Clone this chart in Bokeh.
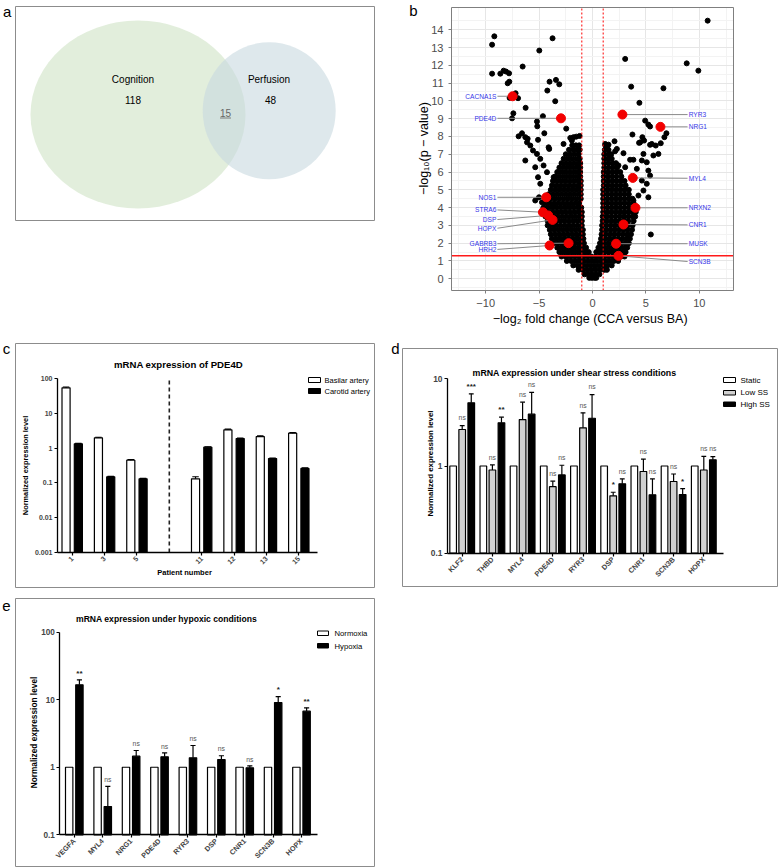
import math
from bokeh.plotting import figure
from bokeh.models import Label, BoxAnnotation, FixedTicker, Range1d
from bokeh.layouts import column, row
from bokeh.embed import file_html
from bokeh.resources import INLINE
from bokeh.core.properties import value

FONT = "Liberation Sans"

# ---------------- data ----------------
venn_sets = ["Cognition", "Perfusion"]
venn_only = [118, 48]
venn_shared = 15

# volcano: dense cloud (rows of -log10 p with fold changes)
cloud_row_y = [0.05, 0.25, 0.5, 0.75, 1.0, 1.25, 1.5, 1.75, 2.0, 2.25, 2.5, 2.75, 3.0, 3.25, 3.5,
               3.75, 4.0, 4.25, 4.5, 4.75, 5.0, 5.25, 5.5, 5.75, 6.0, 6.25, 6.5, 6.75, 7.0, 7.25, 7.5]
cloud_row_x = [
    [-0.3, -0.05, 0.2, 0.35],
    [-0.75, -0.4, -0.05, 0.3, 0.65],
    [-1.3, -0.9, -0.5, -0.1, 0.3, 0.7, 1.1, 1.35],
    [-1.8, -1.4, -1.0, -0.6, -0.2, 0.2, 0.6, 1.0, 1.4, 1.8],
    [-2.4, -2.0, -1.6, -1.2, -0.8, -0.4, 0.0, 0.4, 0.8, 1.2, 1.6, 2.0, 2.4],
    [-2.9, -2.5, -2.1, -1.7, -1.3, -0.9, -0.5, -0.1, 0.3, 0.7, 1.1, 1.5, 1.9, 2.3, 2.7, 3.0],
    [-3.1, -2.7, -2.3, -1.9, -1.5, -1.1, -0.7, -0.35, 0.35, 0.7, 1.1, 1.5, 1.9, 2.3, 2.7, 3.1],
    [-3.3, -2.9, -2.5, -2.1, -1.7, -1.3, -0.95, -0.6, 0.55, 0.9, 1.3, 1.7, 2.1, 2.5, 2.9, 3.25],
    [-3.6, -3.2, -2.8, -2.4, -2.0, -1.6, -1.2, -0.8, 0.7, 1.05, 1.45, 1.85, 2.25, 2.65, 3.05, 3.4],
    [-3.8, -3.4, -3.0, -2.6, -2.2, -1.8, -1.4, -1.0, -0.85, 0.8, 1.2, 1.6, 2.0, 2.4, 2.8, 3.2, 3.5],
    [-3.9, -3.5, -3.1, -2.7, -2.3, -1.9, -1.5, -1.1, -0.9, 0.85, 1.25, 1.65, 2.05, 2.45, 2.85, 3.25, 3.6],
    [-4.0, -3.6, -3.2, -2.8, -2.4, -2.0, -1.6, -1.2, -0.9, 0.9, 1.3, 1.7, 2.1, 2.5, 2.9, 3.3, 3.7],
    [-4.2, -3.8, -3.4, -3.0, -2.6, -2.2, -1.8, -1.4, -1.0, 0.9, 1.3, 1.7, 2.1, 2.5, 2.9, 3.3, 3.75],
    [-4.2, -3.8, -3.4, -3.0, -2.6, -2.2, -1.8, -1.4, -1.0, 0.95, 1.35, 1.75, 2.15, 2.55, 2.95, 3.35, 3.85],
    [-4.4, -4.0, -3.6, -3.2, -2.8, -2.4, -2.0, -1.6, -1.2, -1.0, 0.95, 1.35, 1.75, 2.15, 2.55, 2.95, 3.35, 3.75, 4.0],
    [-4.5, -4.1, -3.7, -3.3, -2.9, -2.5, -2.1, -1.7, -1.3, -1.0, 1.0, 1.4, 1.8, 2.2, 2.6, 3.0, 3.4, 3.8, 4.05],
    [-4.6, -4.2, -3.8, -3.4, -3.0, -2.6, -2.2, -1.8, -1.4, -1.05, 1.0, 1.4, 1.8, 2.2, 2.6, 3.0, 3.4, 3.8, 4.1],
    [-4.4, -4.0, -3.6, -3.2, -2.8, -2.4, -2.0, -1.6, -1.25, 1.0, 1.4, 1.8, 2.2, 2.6, 3.0, 3.4, 3.85],
    [-4.3, -3.9, -3.5, -3.1, -2.7, -2.3, -1.9, -1.5, -1.1, 1.0, 1.4, 1.8, 2.2, 2.6, 3.0, 3.4, 3.75],
    [-4.1, -3.7, -3.3, -2.9, -2.5, -2.1, -1.7, -1.3, -1.1, 1.0, 1.4, 1.8, 2.2, 2.6, 3.0, 3.4],
    [-3.9, -3.5, -3.1, -2.7, -2.3, -1.9, -1.5, -1.1, 1.0, 1.4, 1.8, 2.2, 2.6, 3.0, 3.4],
    [-3.8, -3.4, -3.0, -2.6, -2.2, -1.8, -1.4, -1.1, 1.05, 1.45, 1.85, 2.25, 2.65, 3.1],
    [-3.7, -3.3, -2.9, -2.5, -2.1, -1.7, -1.3, -1.1, 1.05, 1.45, 1.85, 2.25, 2.65, 3.0],
    [-3.5, -3.1, -2.7, -2.3, -1.9, -1.5, -1.15, 1.05, 1.45, 1.85, 2.25, 2.7],
    [-3.3, -2.9, -2.5, -2.1, -1.7, -1.3, -1.15, 1.05, 1.45, 1.85, 2.25, 2.6],
    [-3.1, -2.7, -2.3, -1.9, -1.5, -1.15, 1.1, 1.5, 1.9, 2.3],
    [-2.9, -2.5, -2.1, -1.7, -1.3, -1.15, 1.1, 1.5, 1.9, 2.2],
    [-2.7, -2.3, -1.9, -1.5, -1.2, 1.1, 1.45, 1.8],
    [-2.5, -2.1, -1.7, -1.3, 1.1, 1.5, 1.75],
    [-2.2, -1.8, -1.45, -1.2, 1.15, 1.5],
    [-1.9, -1.55, -1.25, 1.2, 1.4],
]
outlier_x = [-9.40, -9.19, -3.74, -4.98, -9.40, -8.63, -8.32, -8.09, -7.81, -7.94, -7.79, -6.54, -4.02,
             -3.42, -3.11, -4.23, -7.20, -7.76, -6.97, -3.49, -7.41, -7.53, -6.26, -4.64, -5.20, -5.17,
             -4.51, -2.46, -6.92, -6.60, -6.29, -5.10, -2.71, -2.08, -1.78, -1.52, -1.21, -1.93, -6.13,
             -5.82, -4.11, -6.07, -5.57, -5.20, -6.29, -4.89, -4.58, -5.36, -4.26, -5.10, -4.89, -5.01,
             -5.36, -4.73, -3.64, -4.05,
             10.78, 3.06, 8.82, 9.91, 3.62, 6.64, 4.39, 4.93, 5.23, 5.39, 6.92, 6.73, 3.74, 4.67, 4.83,
             4.36, 5.39, 5.92, 6.39, 2.06, 1.19, 1.50, 2.28, 4.46, 5.55, 2.12, 2.90, 4.77, 5.70, 6.17,
             3.52, 3.83, 4.62, 5.08, 2.43, 3.06, 4.15, 5.23, 5.39, 4.62, 5.08, 5.23, 4.77, 4.30, 5.46, 3.83]
outlier_y = [13.16, 13.63, 13.52, 12.83, 11.53, 11.53, 11.70, 11.65, 11.55, 10.99, 11.08, 11.93, 11.08,
             11.18, 10.93, 10.58, 10.43, 10.17, 10.15, 9.98, 9.30, 9.02, 9.61, 9.14, 8.84, 8.57,
             8.18, 8.44, 8.01, 8.18, 7.96, 7.81, 7.58, 7.92, 7.96, 7.99, 8.03, 7.77, 7.67,
             7.49, 7.39, 7.87, 7.21, 7.02, 6.65, 6.74, 6.37, 6.27, 5.99, 5.71, 5.34, 4.58,
             4.40, 4.30, 5.71, 7.30,
             14.51, 12.36, 12.11, 11.70, 10.80, 10.71, 9.89, 8.89, 8.67, 8.56, 8.18, 7.96, 8.11, 7.96, 7.77,
             7.64, 7.53, 7.49, 7.62, 7.73, 7.58, 7.54, 7.30, 7.67, 7.58, 7.17, 7.06, 7.02, 6.93, 7.02,
             6.69, 6.69, 6.65, 6.55, 6.37, 6.27, 6.18, 6.08, 5.80, 5.52, 5.34, 4.58, 4.96, 4.68, 2.49, 4.40]

hl_genes = ["CACNA1S", "PDE4D", "RYR3", "NRG1", "MYL4", "NOS1", "NRXN2", "STRA6", "DSP", "HOPX",
            "CNR1", "GABRB3", "HRH2", "MUSK", "SCN3B"]
hl_fc = [-7.48, -2.95, 2.80, 6.36, 3.77, -4.33, 4.02, -4.64, -4.14, -3.74, 2.90, -2.24, -4.02, 2.21, 2.43]
hl_p = [10.26, 9.02, 9.23, 8.54, 5.67, 4.58, 3.99, 3.74, 3.56, 3.31, 3.05, 2.00, 1.87, 1.97, 1.29]
hl_label_p = [10.26, 9.02, 9.23, 8.54, 5.65, 4.58, 3.99, 3.87, 3.33, 2.84, 3.03, 1.97, 1.65, 1.97, 0.97]
p_cutoff = 1.3
fc_cutoff = 1.0
volcano_xticks = [-10, -5, 0, 5, 10]
volcano_xminor = [-12.5, -7.5, -2.5, 2.5, 7.5, 12.5]
volcano_yticks = [0, 1, 2, 3, 4, 5, 6, 7, 8, 9, 10, 11, 12, 13, 14]
volcano_yminor = [-0.5, 0.5, 1.5, 2.5, 3.5, 4.5, 5.5, 6.5, 7.5, 8.5, 9.5, 10.5, 11.5, 12.5, 13.5, 14.5]

pde4d_patients = ["1", "3", "5", "11", "12", "13", "15"]
pde4d_basilar = [54.0, 1.97, 0.45, 0.131, 3.35, 2.15, 2.68]
pde4d_basilar_errtop = [57.0, 2.05, 0.47, 0.150, 3.5, 2.25, 2.78]
pde4d_carotid = [1.33, 0.149, 0.131, 1.06, 1.89, 0.50, 0.26]
pde4d_carotid_errtop = [1.37, 0.153, 0.135, 1.09, 1.95, 0.52, 0.27]

ss_genes = ["KLF2", "THBD", "MYL4", "PDE4D", "RYR3", "DSP", "CNR1", "SCN3B", "HOPX"]
ss_static = [1, 1, 1, 1, 1, 1, 1, 1, 1]
ss_low = [2.62, 0.90, 3.41, 0.58, 2.74, 0.455, 0.865, 0.664, 0.90]
ss_low_errtop = [2.91, 1.03, 5.39, 0.67, 4.07, 0.50, 1.20, 0.81, 1.29]
ss_high = [5.3, 3.13, 3.93, 0.79, 3.53, 0.625, 0.468, 0.47, 1.18]
ss_high_errtop = [6.73, 3.63, 7.0, 1.02, 6.6, 0.71, 0.71, 0.55, 1.28]
ss_low_sig = ["ns", "ns", "ns", "ns", "ns", "*", "ns", "ns", "ns"]
ss_high_sig = ["***", "**", "ns", "ns", "ns", "ns", "ns", "*", "ns"]

hx_genes = ["VEGFA", "MYL4", "NRG1", "PDE4D", "RYR3", "DSP", "CNR1", "SCN3B", "HOPX"]
hx_normoxia = [1, 1, 1, 1, 1, 1, 1, 1, 1]
hx_hypoxia = [16.6, 0.262, 1.46, 1.43, 1.38, 1.30, 0.98, 9.08, 6.76]
hx_hypoxia_errtop = [19.7, 0.52, 1.77, 1.63, 2.1, 1.48, 1.05, 11.1, 7.58]
hx_sig = ["**", "ns", "ns", "ns", "ns", "ns", "ns", "*", "**"]


# ---------------- helpers ----------------
def full_fig(ox, oy, cw, ch, xu, xv, xp, yu, yv, yp, ylog=False):
    """Figure whose frame covers the whole canvas (ox,oy,cw,ch in page px).
    xu px per x unit, data value xv sits at page px xp; same for y (yu px per unit/decade)."""
    x0 = xv - (xp - ox) / xu
    x1 = xv + (ox + cw - xp) / xu
    if ylog:
        lv = math.log10(yv)
        y0 = 10 ** (lv - (oy + ch - yp) / yu)
        y1 = 10 ** (lv + (yp - oy) / yu)
    else:
        y0 = yv - (oy + ch - yp) / yu
        y1 = yv + (yp - oy) / yu
    p = figure(frame_width=cw, frame_height=ch, min_border=0,
               x_range=Range1d(x0, x1), y_range=Range1d(y0, y1),
               y_axis_type="log" if ylog else "linear",
               output_backend="svg", toolbar_location=None)
    p.background_fill_color = "white"
    p.border_fill_color = "white"
    p.outline_line_color = None
    to_x = lambda px: xv + (px - xp) / xu
    return p, (ox, oy + ch), to_x


def lab(p, g, x, y, text, size, align="center", baseline="middle", bold=False,
        color="black", angle=0.0):
    fl, fb = g
    p.add_layout(Label(x=x - fl, y=fb - y, x_units="screen", y_units="screen",
                       text=text, text_font=FONT, text_font_size=f"{size}px",
                       text_align=align, text_baseline=baseline,
                       text_font_style="bold" if bold else "normal",
                       text_color=color, angle=angle))


def rect(p, g, x0, y0, x1, y1, fill=None, line="#8c8c8c", lw=1.0):
    fl, fb = g
    p.add_layout(BoxAnnotation(left=x0 - fl, right=x1 - fl, top=fb - y0, bottom=fb - y1,
                               left_units="screen", right_units="screen",
                               top_units="screen", bottom_units="screen",
                               fill_color=fill, fill_alpha=1.0 if fill else 0.0,
                               line_color=line, line_alpha=1.0, line_width=lw,
                               line_dash="solid"))


def gp_axes(p, xt, xlabels, yt, ylabels, xb, yb, xsize, ysize):
    p.xaxis.ticker = FixedTicker(ticks=xt)
    p.xaxis.major_label_overrides = dict(zip(xt, xlabels))
    p.yaxis.ticker = FixedTicker(ticks=yt)
    p.yaxis.major_label_overrides = dict(zip(yt, ylabels))
    p.xaxis.fixed_location = yb[0]
    p.yaxis.fixed_location = xb[0]
    p.xaxis.bounds = xb
    p.yaxis.bounds = yb
    for ax, sz in ((p.xaxis[0], xsize), (p.yaxis[0], ysize)):
        ax.axis_line_color = "black"
        ax.axis_line_width = 1.3
        ax.major_tick_line_color = "black"
        ax.major_tick_line_width = 1.2
        ax.major_tick_in = 0
        ax.major_tick_out = 3
        ax.minor_tick_line_color = None
        ax.major_label_text_font = FONT
        ax.major_label_text_font_size = f"{sz}px"
        ax.major_label_text_font_style = "bold"
        ax.major_label_standoff = 2
    p.xaxis.major_label_orientation = math.pi / 4
    p.grid.visible = False


def err_bars(p, xs, tops, errtops, cap):
    p.segment(x0=xs, y0=tops, x1=xs, y1=errtops, line_color="black", line_width=1.2)
    p.segment(x0=[x - cap for x in xs], y0=errtops, x1=[x + cap for x in xs], y1=errtops,
              line_color="black", line_width=1.2)


def sig_text(p, xs, errtops, sig):
    ns_x = [x for x, s in zip(xs, sig) if s == "ns"]
    ns_y = [e * 1.12 for e, s in zip(errtops, sig) if s == "ns"]
    st_x = [x for x, s in zip(xs, sig) if s != "ns"]
    st_y = [e * 1.08 for e, s in zip(errtops, sig) if s != "ns"]
    st_t = [s for s in sig if s != "ns"]
    p.text(x=ns_x, y=ns_y, text=["ns"] * len(ns_x), text_font=value(FONT),
           text_font_size="6.8px", text_align="center", text_baseline="bottom", text_color="#555555")
    p.text(x=st_x, y=st_y, text=st_t, text_font=value(FONT), text_font_size="8px",
           text_font_style="bold", text_align="center", text_baseline="bottom", text_color="#222222")


# ---------------- panel a: Venn ----------------
pA = figure(frame_width=388, frame_height=335, x_range=(0, 388), y_range=(335, 0),
            x_axis_location=None, y_axis_location=None, min_border=0,
            output_backend="svg", toolbar_location=None)
pA.outline_line_color = None
pA.grid.visible = False
pA.quad(left=[15], right=[374], top=[6], bottom=[220], fill_color=None, line_color="#8c8c8c", line_width=1)
pA.ellipse(x=[137.5], y=[114], width=[215], height=[188], fill_color="#cfe3c5", fill_alpha=0.6, line_color=None)
pA.ellipse(x=[268.7], y=[110.3], width=[133], height=[137], fill_color="#c8d9df", fill_alpha=0.6, line_color=None)
pA.text(x=[132.5, 268.5], y=[79, 79], text=venn_sets, text_font=value(FONT), text_font_size="10px",
        text_align="center", text_baseline="middle")
pA.text(x=[132.5, 270], y=[99.5, 99.5], text=[str(v) for v in venn_only], text_font=value(FONT),
        text_font_size="10px", text_align="center", text_baseline="middle")
pA.text(x=[225], y=[112], text=[str(venn_shared)], text_font=value(FONT), text_font_size="10px",
        text_align="center", text_baseline="middle", text_color="#666666")
pA.segment(x0=[219.5], y0=[117.5], x1=[230.5], y1=[117.5], line_color="#666666", line_width=0.8)
pA.text(x=[2.5], y=[10.5], text=["a"], text_font=value(FONT), text_font_size="15px",
        text_align="left", text_baseline="middle")

# ---------------- panel b: volcano ----------------
XB = (-13.2, 13.2)
YB = (-0.66, 15.25)
pB, gB, _ = full_fig(388, 0, 390, 335, 282 / (XB[1] - XB[0]), XB[0], 451,
                     283 / (YB[1] - YB[0]), YB[0], 290)
pB.xaxis.ticker = FixedTicker(ticks=volcano_xticks, minor_ticks=volcano_xminor)
pB.yaxis.ticker = FixedTicker(ticks=volcano_yticks, minor_ticks=volcano_yminor)
pB.xaxis.fixed_location = YB[0]
pB.yaxis.fixed_location = XB[0]
pB.xaxis.bounds = XB
pB.yaxis.bounds = YB
for ax in (pB.xaxis[0], pB.yaxis[0]):
    ax.axis_line_color = None
    ax.major_tick_line_color = "#7f7f7f"
    ax.major_tick_in = 0
    ax.major_tick_out = 3
    ax.minor_tick_line_color = None
    ax.major_label_text_font = FONT
    ax.major_label_text_font_size = "11px"
    ax.major_label_text_color = "#4d4d4d"
    ax.major_label_standoff = 4
pB.xgrid.cross_bounds = YB
pB.ygrid.cross_bounds = XB
pB.grid.grid_line_color = "#e6e6e6"
pB.grid.minor_grid_line_color = "#f3f3f3"

cloud_x, cloud_y = [], []
for yv, xs in zip(cloud_row_y, cloud_row_x):
    cloud_x += xs
    cloud_y += [yv] * len(xs)
cloud_x += outlier_x
cloud_y += outlier_y
pB.scatter(cloud_x, cloud_y, size=5, color="black")

pB.segment(x0=[-fc_cutoff, fc_cutoff], y0=[YB[0]] * 2, x1=[-fc_cutoff, fc_cutoff], y1=[YB[1]] * 2,
           line_color="red", line_dash="2 2", line_width=1)
pB.segment(x0=[XB[0]], y0=[p_cutoff], x1=[XB[1]], y1=[p_cutoff], line_color="#ff1a1a", line_width=1.5)

lx0, ly0, lx1, ly1 = [], [], [], []
for fc, pv, lp in zip(hl_fc, hl_p, hl_label_p):
    lx0.append(-8.9 if fc < 0 else 8.9)
    ly0.append(lp)
    lx1.append(fc)
    ly1.append(pv)
pB.segment(x0=lx0, y0=ly0, x1=lx1, y1=ly1, line_color="#8a8a8a", line_width=1)
pB.scatter(hl_fc, hl_p, size=9, color="#f20000")
left_idx = [i for i, fc in enumerate(hl_fc) if fc < 0]
right_idx = [i for i, fc in enumerate(hl_fc) if fc >= 0]
pB.text(x=[-9.0] * len(left_idx), y=[hl_label_p[i] for i in left_idx], text=[hl_genes[i] for i in left_idx],
        text_font=value(FONT), text_font_size="6.6px", text_align="right", text_baseline="middle",
        text_color="#3535e8")
pB.text(x=[9.0] * len(right_idx), y=[hl_label_p[i] for i in right_idx], text=[hl_genes[i] for i in right_idx],
        text_font=value(FONT), text_font_size="6.6px", text_align="left", text_baseline="middle",
        text_color="#3535e8")
pB.add_layout(BoxAnnotation(left=XB[0], right=XB[1], bottom=YB[0], top=YB[1], fill_alpha=0.0,
                            line_color="#7f7f7f", line_alpha=1.0, line_width=1, line_dash="solid"))
lab(pB, gB, 413, 10, "b", 15)
lab(pB, gB, 590, 318, "\u2212log\u2082 fold change (CCA versus BA)", 12.5)
lab(pB, gB, 423, 148, "\u2212log\u2081\u2080(p \u2212 value)", 12.5, angle=math.pi / 2)

# ---------------- panel c: PDE4D per patient ----------------
pC, gC, cx = full_fig(0, 335, 388, 257, 32.37, 0, 71.7, 34.8, 100, 378, ylog=True)
c_slots = [i if i < 3 else i + 1 for i in range(len(pde4d_patients))]
gp_axes(pC, c_slots, pde4d_patients, [0.001, 0.01, 0.1, 1, 10, 100],
        ["0.001", "0.01", "0.1", "1", "10", "100"], (cx(57), cx(317)), (0.001, 100), 7, 7)
cb_x = [s - 0.19 for s in c_slots]
cc_x = [s + 0.19 for s in c_slots]
pC.vbar(x=cb_x, top=pde4d_basilar, bottom=0.001, width=0.25, fill_color="white", line_color="black", line_width=1.2)
pC.vbar(x=cc_x, top=pde4d_carotid, bottom=0.001, width=0.25, fill_color="black", line_color="black", line_width=1.2)
err_bars(pC, cb_x, pde4d_basilar, pde4d_basilar_errtop, 0.1)
err_bars(pC, cc_x, pde4d_carotid, pde4d_carotid_errtop, 0.1)
pC.segment(x0=[3], y0=[0.001], x1=[3], y1=[100], line_color="#222222", line_dash="4 3", line_width=1.6)
rect(pC, gC, 15, 343, 374, 587)
lab(pC, gC, 6, 348, "c", 15)
lab(pC, gC, 178, 364, "mRNA expression of PDE4D", 9.6, bold=True)
lab(pC, gC, 25, 465, "Normalized expression level", 7.4, bold=True, angle=math.pi / 2)
lab(pC, gC, 184, 572, "Patient number", 7.5, bold=True)
rect(pC, gC, 308, 377, 320, 382, fill="white", line="black")
rect(pC, gC, 308, 388, 320, 393, fill="black", line="black")
lab(pC, gC, 324, 379.5, "Basilar artery", 7.5, align="left")
lab(pC, gC, 324, 390.5, "Carotid artery", 7.5, align="left")

# ---------------- panel d: shear stress ----------------
pD, gD, dx = full_fig(388, 335, 390, 257, 30.2, 0, 461.7, 87.2, 10, 378.3, ylog=True)
d_slots = list(range(len(ss_genes)))
gp_axes(pD, d_slots, ss_genes, [0.1, 1, 10], ["0.1", "1", "10"], (dx(447), dx(722.7)), (0.1, 10), 7.2, 8.4)
ds_x = [s - 0.3 for s in d_slots]
dl_x = [s for s in d_slots]
dh_x = [s + 0.3 for s in d_slots]
pD.vbar(x=ds_x, top=ss_static, bottom=0.1, width=0.22, fill_color="white", line_color="black", line_width=1.2)
pD.vbar(x=dl_x, top=ss_low, bottom=0.1, width=0.22, fill_color="#d0d0d0", line_color="black", line_width=1.2)
pD.vbar(x=dh_x, top=ss_high, bottom=0.1, width=0.22, fill_color="black", line_color="black", line_width=1.2)
err_bars(pD, dl_x, ss_low, ss_low_errtop, 0.08)
err_bars(pD, dh_x, ss_high, ss_high_errtop, 0.08)
sig_text(pD, dl_x, ss_low_errtop, ss_low_sig)
sig_text(pD, dh_x, ss_high_errtop, ss_high_sig)
rect(pD, gD, 402, 348, 777, 586)
lab(pD, gD, 395, 348, "d", 15)
lab(pD, gD, 574, 372, "mRNA expression under shear stress conditions", 8.8, bold=True)
lab(pD, gD, 430, 463, "Normalized expression level", 7.9, bold=True, angle=math.pi / 2)
rect(pD, gD, 723, 377, 735, 382, fill="white", line="black")
rect(pD, gD, 723, 390, 735, 394.5, fill="#d0d0d0", line="black")
rect(pD, gD, 723, 401.5, 735, 406, fill="black", line="black")
lab(pD, gD, 740, 379.5, "Static", 8, align="left")
lab(pD, gD, 740, 392, "Low SS", 8, align="left")
lab(pD, gD, 740, 404, "High SS", 8, align="left")

# ---------------- panel e: hypoxia ----------------
pE, gE, ex = full_fig(0, 592, 388, 276, 28.4, 0, 73.8, 67.53, 100, 631.7, ylog=True)
e_slots = list(range(len(hx_genes)))
gp_axes(pE, e_slots, hx_genes, [0.1, 1, 10, 100], ["0.1", "1", "10", "100"],
        (ex(59.3), ex(316.7)), (0.1, 100), 7.2, 8.2)
en_x = [s - 0.18 for s in e_slots]
eh_x = [s + 0.18 for s in e_slots]
pE.vbar(x=en_x, top=hx_normoxia, bottom=0.1, width=0.26, fill_color="white", line_color="black", line_width=1.2)
pE.vbar(x=eh_x, top=hx_hypoxia, bottom=0.1, width=0.26, fill_color="black", line_color="black", line_width=1.2)
err_bars(pE, eh_x, hx_hypoxia, hx_hypoxia_errtop, 0.09)
sig_text(pE, eh_x, hx_hypoxia_errtop, hx_sig)
rect(pE, gE, 15, 598, 374, 866)
lab(pE, gE, 6, 605, "e", 15)
lab(pE, gE, 166, 618, "mRNA expression under hypoxic conditions", 8.6, bold=True)
lab(pE, gE, 33, 732, "Normalized expression level", 8.3, bold=True, angle=math.pi / 2)
rect(pE, gE, 317, 630.5, 328, 635, fill="white", line="black")
rect(pE, gE, 317, 643, 328, 647.5, fill="black", line="black")
lab(pE, gE, 334, 633, "Normoxia", 7.7, align="left")
lab(pE, gE, 334, 645.5, "Hypoxia", 7.7, align="left")

layout = column(row(pA, pB), row(pC, pD), pE, margin=(0, 0, 0, 0))
open("out.html", "w").write(file_html(layout, INLINE))
